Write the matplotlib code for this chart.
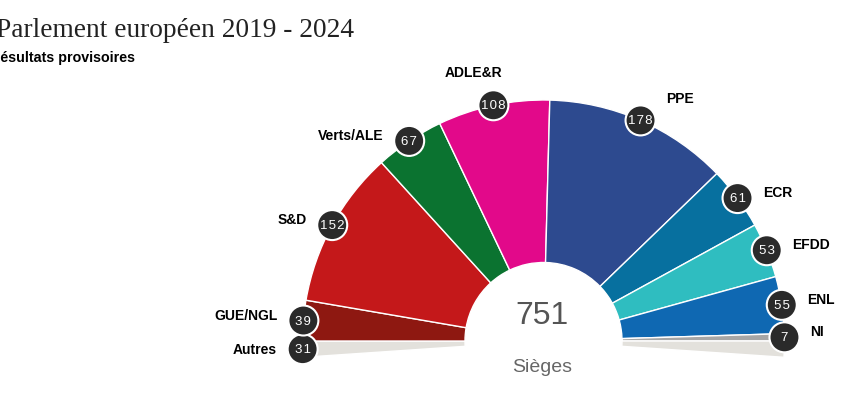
import numpy as np
import matplotlib.pyplot as plt
from matplotlib.patches import Wedge, Circle

parties = ["Autres", "GUE/NGL", "S&D", "Verts/ALE", "ADLE&R", "PPE", "ECR", "EFDD", "ENL", "NI"]
seats = [31, 39, 152, 67, 108, 178, 61, 53, 55, 7]
colors = ["#e3e1dc", "#8e1811", "#c4181a", "#0b7330", "#e2098a",
          "#2d4a8f", "#07709f", "#2fbdc0", "#0f68b2", "#a6a6a6"]
total = sum(seats)

W, H = 862, 406
cx, cy = 543.5, H - 342
r_out, r_in = 241, 78.5

# the half circle holds every group but "Autres", which is split in two slivers under the baseline
dps = 180 / (total - seats[0])
start = 180 + seats[0] / 2 * dps

fig = plt.figure(figsize=(W / 100, H / 100), dpi=100)
ax = fig.add_axes([0, 0, 1, 1])
ax.set_xlim(0, W)
ax.set_ylim(0, H)
ax.set_axis_off()

segs = [(seats[0] / 2, colors[0])] + list(zip(seats[1:], colors[1:])) + [(seats[0] / 2, colors[0])]
a = start
for n, col in segs:
    b = a - n * dps
    ax.add_patch(Wedge((cx, cy), r_out, b, a, width=r_out - r_in,
                       facecolor=col, edgecolor="white", linewidth=1))
    a = b

# label tweaks (label offset in px, up is positive)
nudge = {"Autres": (0, -6), "PPE": (0, 16)}

a = start
for i, (name, n) in enumerate(zip(parties, seats)):
    width = n / 2 if name == "Autres" else n
    mid = np.radians(a - width * dps / 2)
    a -= width * dps
    px = cx + r_out * np.cos(mid)
    py = cy + r_out * np.sin(mid)
    ax.add_patch(Circle((px, py), 15, facecolor="#2a2a2a", edgecolor="white",
                        linewidth=1.5, zorder=5))
    ax.text(px, py, " ".join(str(n)).replace(" ", "\u200a"), color="white", fontsize=9.5,
            ha="center", va="center", family=["Liberation Sans", "DejaVu Sans"], zorder=6)
    if name == "ADLE&R":
        ax.text(px - 20, py + 33, name, fontsize=10, fontweight="bold",
                ha="center", va="center", family="Liberation Sans")
        continue
    side = 1 if np.cos(mid) > 0.02 else -1
    ddx, ddy = nudge.get(name, (0, 0))
    ax.text(px + side * 25.5 + ddx, py + 6 + ddy, name, fontsize=10, fontweight="bold",
            ha="left" if side > 0 else "right", va="center", family="Liberation Sans")

ax.text(cx - 1.5, H - 316.5, str(total), fontsize=23, color="#555555",
        ha="center", va="center", family="Liberation Sans")
ax.text(cx - 1.5, H - 372, "Sièges", fontsize=14, color="#666666",
        ha="center", va="baseline", family="Liberation Sans")

fig.text(-4 / W, 1 - 37 / H, "Parlement européen 2019 - 2024", fontsize=19.7,
         family="Liberation Serif", color="#222222", va="baseline")
fig.text(-10 / W, 1 - 61.7 / H, "Résultats provisoires", fontsize=10.3, fontweight="bold",
         family="Liberation Sans", va="baseline")

fig.savefig("out.png", dpi=100)
